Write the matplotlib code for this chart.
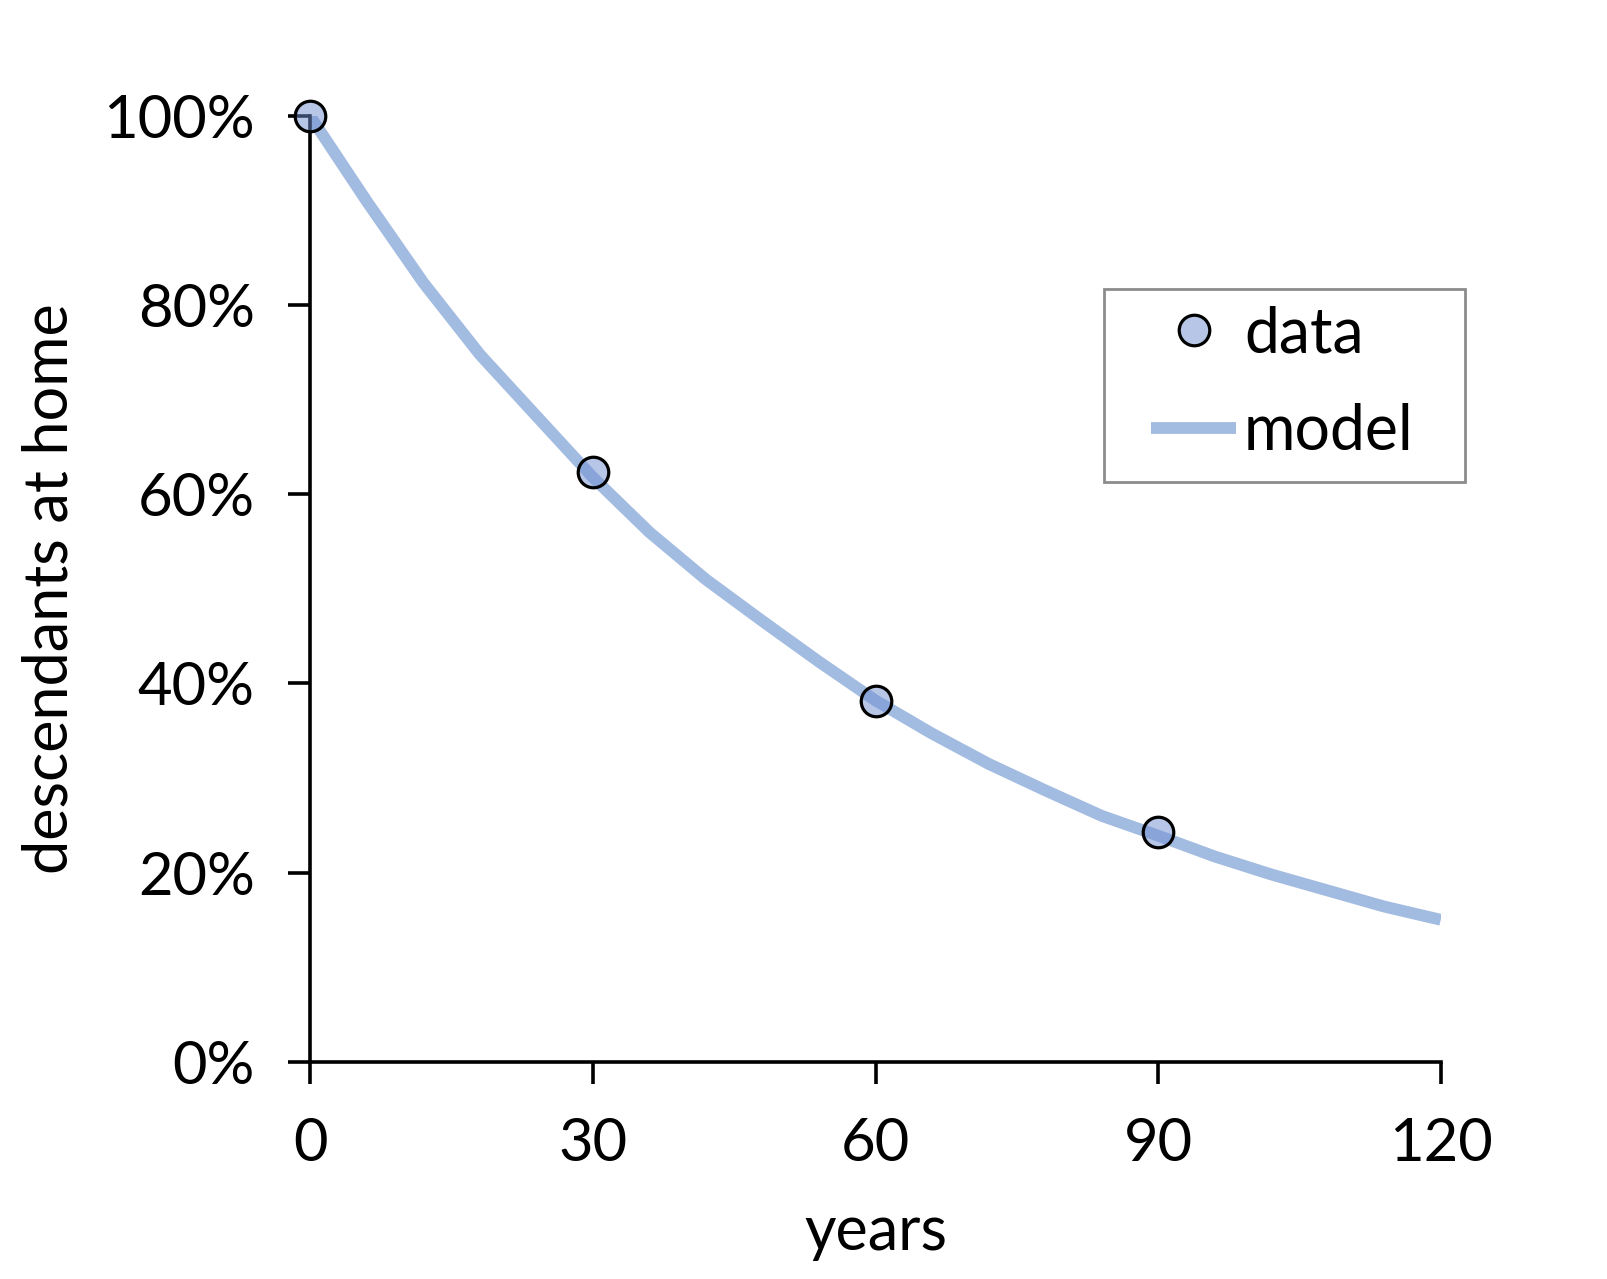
import matplotlib as mpl
import matplotlib.pyplot as plt
from matplotlib.patches import Rectangle
from matplotlib.ticker import PercentFormatter

mpl.rcParams["font.family"] = ["Lato", "DejaVu Sans"]

# -------------------------------------
# Data
# -------------------------------------

data_years = [0, 30, 60, 90]
data_share = [1.00, 0.624, 0.382, 0.243]

model_years = [0, 6, 12, 18, 24, 30, 36, 42, 48, 54, 60,
               66, 72, 78, 84, 90, 96, 102, 108, 114, 120]
model_share = [1.00, 0.91, 0.824, 0.748, 0.683, 0.618, 0.56, 0.51, 0.466, 0.423, 0.382,
               0.347, 0.315, 0.287, 0.26, 0.239, 0.217, 0.198, 0.181, 0.164, 0.15]

x_ticks = [0, 30, 60, 90, 120]
y_ticks = [0, 0.2, 0.4, 0.6, 0.8, 1.0]

# -------------------------------------
# Plotting
# -------------------------------------

fig = plt.figure(figsize=(16.08, 12.79), dpi=100)
ax = fig.add_axes([0.193, 0.170, 0.703, 0.739])

ax.plot(model_years, model_share, color="#a2bbe0", linewidth=8.5,
        solid_capstyle="butt", label="model", zorder=2)
ax.plot(data_years, data_share, linestyle="none", marker="o", markersize=22,
        markerfacecolor=(0.44, 0.56, 0.82, 0.5), markeredgecolor="black",
        markeredgewidth=2.3, label="data", clip_on=False, zorder=3)

ax.set_xlim(0, 120)
ax.set_ylim(0, 1.0)
ax.set_xticks(x_ticks)
ax.set_yticks(y_ticks)
ax.yaxis.set_major_formatter(PercentFormatter(1.0, decimals=0))

for side in ["top", "right"]:
    ax.spines[side].set_visible(False)
for side in ["left", "bottom"]:
    ax.spines[side].set_linewidth(2.6)

ax.tick_params(axis="both", direction="out", length=16, width=2.6,
               labelsize=43, pad=24)

ax.set_xlabel("years", fontsize=44, labelpad=24)
ax.set_ylabel("descendants at home", fontsize=44, labelpad=18)

# legend: entries without frame, box drawn separately (wider than tall padding)
handles, labels = ax.get_legend_handles_labels()
leg = ax.legend(handles[::-1], labels[::-1], loc="center left",
                bbox_to_anchor=(0.744, 0.718), fontsize=45, frameon=False,
                borderpad=0, borderaxespad=0, handlelength=1.35,
                handletextpad=0.13, labelspacing=0.63)
ax.add_patch(Rectangle((0.702, 0.613), 0.319, 0.204, transform=ax.transAxes,
                       fill=False, edgecolor="#8c8c8c", linewidth=2,
                       clip_on=False, zorder=4))

fig.savefig("out.png", dpi=100)
